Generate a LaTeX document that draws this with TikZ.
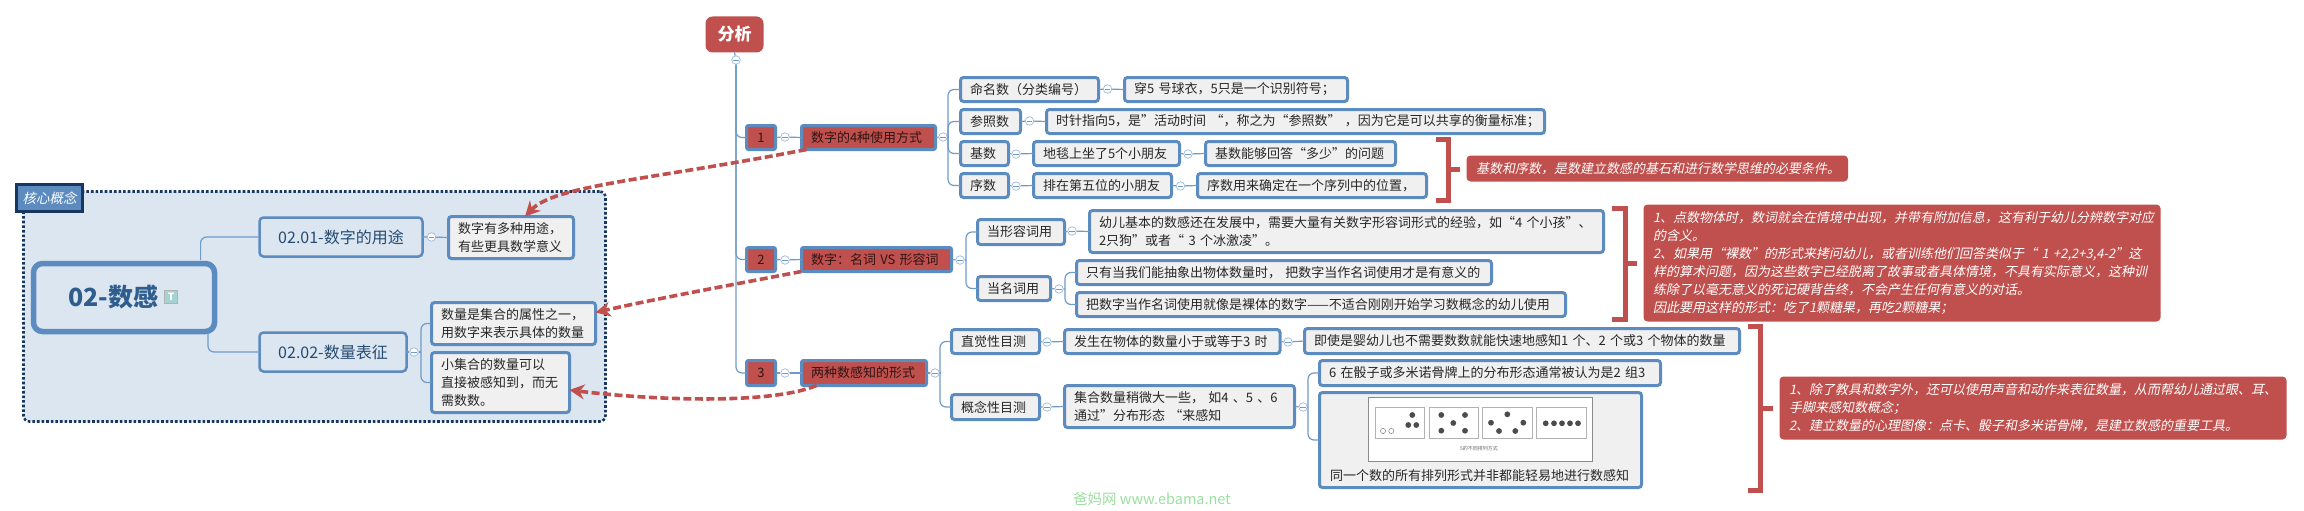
\documentclass[tikz,border=0pt]{standalone}
\usepackage{fontspec}
\usetikzlibrary{arrows.meta}
\setmainfont{Noto Sans CJK SC}
\newfontfamily\slantf[FakeSlant=0.2]{Noto Sans CJK SC}
\definecolor{bblue}{HTML}{5B8BBF}
\definecolor{red1}{HTML}{C0504D}
\definecolor{pale}{HTML}{DCE6F1}
\definecolor{lgray}{HTML}{F0F0F0}
\definecolor{navy}{HTML}{17375E}
\definecolor{ink}{HTML}{262626}
\definecolor{linkc}{HTML}{6F9BCB}
\definecolor{tblue}{HTML}{2F5E8E}
\definecolor{wmgreen}{HTML}{9ADFA0}
\tikzset{
  body/.style={font=\fontsize{13}{18}\selectfont,text=ink},
  boxg/.style={draw=bblue,line width=3pt,fill=lgray,rounded corners=3pt,body},
  boxr/.style={draw=bblue,line width=3pt,fill=red1,rounded corners=2pt,body,text=black!75!red1},
  rn/.style={fill=red1,rounded corners=4pt,font=\slantf\fontsize{13}{18}\selectfont,text=white},
  topic/.style={draw=bblue,line width=2.5pt,fill=pale,rounded corners=4pt,font=\fontsize{16}{20}\selectfont,text=tblue!80!black},
  cc/.style={circle,draw=linkc!70,fill=white,line width=.7pt,minimum size=8.5pt,inner sep=0pt,
    path picture={\draw[linkc,line width=.6pt] ([xshift=1.5pt]path picture bounding box.west)--([xshift=-1.5pt]path picture bounding box.east);}},
  link/.style={draw=linkc,line width=1.2pt,rounded corners=6pt},
  redarrow/.style={draw=red1,line width=3.6pt,dash pattern=on 8pt off 3.5pt,-{Stealth[length=15pt,width=15pt]}},
  bracketl/.style={draw=red1,line width=5pt},
  subimg/.style={draw=black!30,line width=.8pt,fill=white},
  dotf/.style={fill=black!70},
}
\newcommand{\calcbox}[4]{%
  \pgfmathsetmacro\bxw{#3-#1-3}\pgfmathsetmacro\bxh{#4-#2-3}%
  \pgfmathsetmacro\bxa{(#1+#3)/2}\pgfmathsetmacro\bxb{(#2+#4)/2}}
% left aligned box: style, name, x1,y1,x2,y2, text
\newcommand{\bx}[7]{\calcbox{#3}{#4}{#5}{#6}%
  \node[#1,align=left,outer sep=0pt,inner xsep=9.5pt,inner ysep=0pt,text width={\bxw pt-19pt},minimum height=\bxh pt] (#2) at (\bxa,\bxb) {#7};}
% centred box
\newcommand{\bc}[7]{\calcbox{#3}{#4}{#5}{#6}%
  \node[#1,align=center,outer sep=0pt,inner sep=0pt,minimum width=\bxw pt,minimum height=\bxh pt] (#2) at (\bxa,\bxb) {#7};}
\begin{document}
\begin{tikzpicture}[x=1pt,y=-1pt]
\useasboundingbox (0,0) rectangle (2304,511);
% group region
\bc{draw=navy,line width=2.6pt,dash pattern=on 2.6pt off 2pt,fill=pale,rounded corners=6pt}{grp}{22}{190}{607}{423}{}
\bc{draw=navy,line width=2.5pt,fill=bblue,font=\slantf\fontsize{13.5}{16}\selectfont,text=white}{tag}{15}{183}{84}{213}{核心概念}
% central topic
\bc{draw=bblue,line width=5.5pt,fill=pale,rounded corners=9pt}{main}{32}{262}{216}{333}{}
\node[font=\bfseries\fontsize{25}{28}\selectfont,text=tblue,anchor=west,inner sep=0pt] (maint) at (68,297) {02-数感};
\node[draw=black!30,fill=teal!35,text=white,font=\bfseries\fontsize{10}{10}\selectfont,minimum size=13pt,inner sep=0pt] (micon) at (171,297) {T};
\bc{topic}{t1}{258}{216}{424}{258}{02.01-数字的用途}
\bc{topic}{t2}{258}{331}{408}{373}{02.02-数量表征}
\bx{boxg}{n1}{447}{215}{575}{260}{数字有多种用途，\\有些更具数学意义}
\bx{boxg}{n2}{430}{301}{597}{346}{数量是集合的属性之一，\\用数字来表示具体的数量}
\bx{boxg}{n3}{430}{351}{571}{414}{小集合的数量可以\\直接被感知到，而无\\需数数。}
\node[cc] (ct1) at (431.5,237) {};
\node[cc] (ct2) at (414,352) {};
\coordinate (m1) at (200.6,260);
\coordinate (m2) at (208,333);
\coordinate (b2) at (421,352);
\draw[link] (m1) |- (t1.west);
\draw[link] (m2) |- (t2.west);
\draw[link] (t1.east) -- (ct1) -- (n1.west);
\draw[link] (t2.east) -- (ct2) -- (b2);
\draw[link] (b2) |- (n2.west);
\draw[link] (b2) |- (n3.west);
% root
\bc{fill=red1,rounded corners=7pt,text=white,font=\bfseries\fontsize{17}{20}\selectfont}{root}{704}{15}{765}{54}{分析}
\node[cc] (c0) at (736,60) {};
\draw[link] (root.south) -- (c0);
\bc{boxr}{k1}{745}{124}{777}{151}{1}
\bc{boxr}{k2}{745}{246}{777}{273}{2}
\bc{boxr}{k3}{745}{359}{777}{387}{3}
\bx{boxr}{h1}{800}{124}{937}{151}{数字的4种使用方式}
\bx{boxr}{h2}{800}{246}{953}{273}{数字：名词 VS 形容词}
\bx{boxr}{h3}{800}{359}{928}{387}{两种数感知的形式}
\node[cc] (ck1) at (785,137) {};
\node[cc] (ck2) at (785,260) {};
\node[cc] (ck3) at (785,373) {};
\node[cc] (ch1) at (943,137) {};
\node[cc] (ch2) at (960,260) {};
\node[cc] (ch3) at (935,373) {};
\draw[link] (c0.south) |- (k1.west);
\draw[link] (c0.south) |- (k2.west);
\draw[link] (c0.south) |- (k3.west);
\foreach \i in {1,2,3}{\draw[link] (k\i.east) -- (ck\i) -- (h\i.west); \draw[link] (h\i.east) -- (ch\i);}
% group 1
\bx{boxg}{a1}{959}{76}{1100}{103}{命名数（分类编号）}
\bx{boxg}{a1b}{1123}{76}{1349}{103}{穿5 号球衣，5只是一个识别符号；}
\bx{boxg}{a2}{959}{108}{1022}{135}{参照数}
\bx{boxg}{a2b}{1045}{108}{1546}{135}{\mbox{时针指向5，是”活动时间 “，称之为“参照数” ，因为它是可以共享的衡量标准；}}
\bx{boxg}{a3}{959}{140}{1010}{167}{基数}
\bx{boxg}{a3b}{1032}{140}{1181}{167}{地毯上坐了5个小朋友}
\bx{boxg}{a3c}{1204}{140}{1397}{167}{基数能够回答“多少”的问题}
\bx{boxg}{a4}{959}{172}{1010}{199}{序数}
\bx{boxg}{a4b}{1032}{172}{1173}{199}{排在第五位的小朋友}
\bx{boxg}{a4c}{1196}{172}{1428}{199}{序数用来确定在一个序列中的位置，}
\node[cc] (ca1) at (1107.5,89) {};
\node[cc] (ca2) at (1029.5,121) {};
\node[cc] (ca3) at (1016,154) {};
\node[cc] (ca3b) at (1188,154) {};
\node[cc] (ca4) at (1016,186) {};
\node[cc] (ca4b) at (1180.5,186) {};
\coordinate (b3) at (948,137);
\draw[link] (ch1) -- (b3);
\foreach \i in {a1,a2,a3,a4}{\draw[link] (b3) |- (\i.west);}
\draw[link] (a1.east) -- (ca1) -- (a1b.west);
\draw[link] (a2.east) -- (ca2) -- (a2b.west);
\draw[link] (a3.east) -- (ca3) -- (a3b.west);
\draw[link] (a3b.east) -- (ca3b) -- (a3c.west);
\draw[link] (a4.east) -- (ca4) -- (a4b.west);
\draw[link] (a4b.east) -- (ca4b) -- (a4c.west);
% group 2
\bx{boxg}{d1}{976}{218}{1066}{246}{当形容词用}
\bx{boxg}{d1b}{1088}{209}{1605}{254}{幼儿基本的数感还在发展中，需要大量有关数字形容词形式的经验，如“4 个小孩”、\\2只狗”或者“ 3 个冰激凌”。}
\bx{boxg}{d2}{976}{275}{1052}{302}{当名词用}
\bx{boxg}{d2b}{1075}{259}{1493}{286}{只有当我们能抽象出物体数量时， 把数字当作名词使用才是有意义的}
\bx{boxg}{d2c}{1075}{291}{1567}{318}{把数字当作名词使用就像是裸体的数字——不适合刚刚开始学习数概念的幼儿使用}
\node[cc] (cd1) at (1072,231) {};
\node[cc] (cd2) at (1059,289) {};
\coordinate (b4) at (966,260);
\coordinate (b5) at (1065,289);
\draw[link] (ch2) -- (b4);
\draw[link] (b4) |- (d1.west);
\draw[link] (b4) |- (d2.west);
\draw[link] (d1.east) -- (cd1) -- (d1b.west);
\draw[link] (d2.east) -- (cd2) -- (b5);
\draw[link] (b5) |- (d2b.west);
\draw[link] (b5) |- (d2c.west);
% group 3
\bx{boxg}{e1}{950}{328}{1041}{355}{直觉性目测}
\bx{boxg}{e1b}{1063}{328}{1281.5}{355}{发生在物体的数量小于或等于3 时}
\bx{boxg}{e1c}{1303}{327}{1741}{355}{即使是婴幼儿也不需要数数就能快速地感知1 个、2 个或3 个物体的数量}
\bx{boxg}{e2}{950}{393}{1041}{421}{概念性目测}
\bx{boxg}{e2b}{1063}{384}{1296}{429}{集合数量稍微大一些， 如4 、5 、6\\通过”分布形态 “来感知}
\bx{boxg}{e2c}{1318}{359}{1662}{387}{6 在骰子或多米诺骨牌上的分布形态通常被认为是2 组3}
\bc{boxg}{e2d}{1318}{391}{1643}{489}{}
\node[body,anchor=west,inner sep=0pt] (e2t) at (1330,476) {同一个数的所有排列形式并非都能轻易地进行数感知};
\node[cc] (ce1) at (1047,342) {};
\node[cc] (ce1b) at (1288,342) {};
\node[cc] (ce2) at (1047,407) {};
\node[cc] (ce2b) at (1303,407) {};
\coordinate (b6) at (940,373);
\coordinate (b7) at (1308,407);
\draw[link] (ch3) -- (b6);
\draw[link] (b6) |- (e1.west);
\draw[link] (b6) |- (e2.west);
\draw[link] (e1.east) -- (ce1) -- (e1b.west);
\draw[link] (e1b.east) -- (ce1b) -- (e1c.west);
\draw[link] (e2.east) -- (ce2) -- (e2b.west);
\draw[link] (e2b.east) -- (ce2b) -- (b7);
\draw[link] (b7) |- (e2c.west);
\draw[link] (b7) |- (e2d.west);
% picture inside the box
\draw[draw=black!45,line width=.8pt,fill=white] (1368,397) rectangle (1592,461);
\draw[subimg] (1375,407) rectangle (1424,438);
\draw[subimg] (1429,407) rectangle (1478,438);
\draw[subimg] (1482,407) rectangle (1532,438);
\draw[subimg] (1536,407) rectangle (1586,438);
\draw[black!50,line width=.5pt] (1383,431) circle (2.6) (1391.3,431) circle (2.6);
\foreach \p in {(1412.3,415),(1408.3,425),(1416.3,425),(1441.3,415),(1465,415),(1453.3,423),(1441.3,430.7),(1465,430.7),(1507.3,414.3),(1491,422.7),(1523.3,422.7),(1499,431),(1515.3,431),(1545.7,423.3),(1554,423.3),(1562,423.3),(1570,423.3),(1578,423.3)}
  {\fill[dotf] \p circle (2.9);}
\node[font=\fontsize{5}{6}\selectfont,text=black!60,inner sep=0pt] (cap) at (1479,449) {5的不同排列方式};
% brackets and red notes
\bx{rn}{r1}{1465}{154}{1849.5}{183}{基数和序数，是数建立数感的基石和进行数学思维的必要条件。}
\bx{rn}{r2}{1642}{203}{2162}{323}{1、点数物体时，数词就会在情境中出现，并带有附加信息，这有利于幼儿分辨数字对应\\的含义。\\2、如果用“裸数”的形式来拷问幼儿，或者训练他们回答类似于“ 1 +2,2+3,4-2”这\\样的算术问题，因为这些数字已经脱离了故事或者具体情境，不具有实际意义，这种训\\练除了以毫无意义的死记硬背告终，不会产生任何有意义的对话。\\因此要用这样的形式：吃了1颗糖果，再吃2颗糖果；}
\bx{rn}{r3}{1778}{375}{2288}{441}{1、除了教具和数字外，还可以使用声音和动作来表征数量，从而帮幼儿通过眼、耳、\\手脚来感知数概念；\\2、建立数量的心理图像：点卡、骰子和多米诺骨牌，是建立数感的重要工具。}
\coordinate (q1) at (1448,169);
\coordinate (q2) at (1625,263);
\coordinate (q3) at (1760,408);
\draw[bracketl] (1436,139.5) -| (1448,200.5) -- (1436,200.5);
\draw[bracketl] (1612,208.5) -| (1625,319.5) -- (1612,319.5);
\draw[bracketl] (1748,326.5) -| (1760,490.5) -- (1748,490.5);
\draw[bracketl] (q1) -- ++(12,0);
\draw[bracketl] (q2) -- ++(12,0);
\draw[bracketl] (q3) -- ++(13,0);
% dashed arrows
\draw[redarrow] ([xshift=5pt]h1.south west) .. controls (650,180) and (555,185) .. ([xshift=14pt]n1.north);
\draw[redarrow] (h2.south west) .. controls (720,287) and (650,300) .. ([yshift=11pt]n2.east);
\draw[redarrow] ([xshift=15pt]h3.south west) .. controls (770,405) and (650,400) .. ([yshift=-7.5pt]n3.east);
% watermark
\node[font=\fontsize{14.5}{16}\selectfont,text=wmgreen,inner sep=0pt] (wm) at (1152,499) {爸妈网 www.ebama.net};
\end{tikzpicture}
\end{document}
